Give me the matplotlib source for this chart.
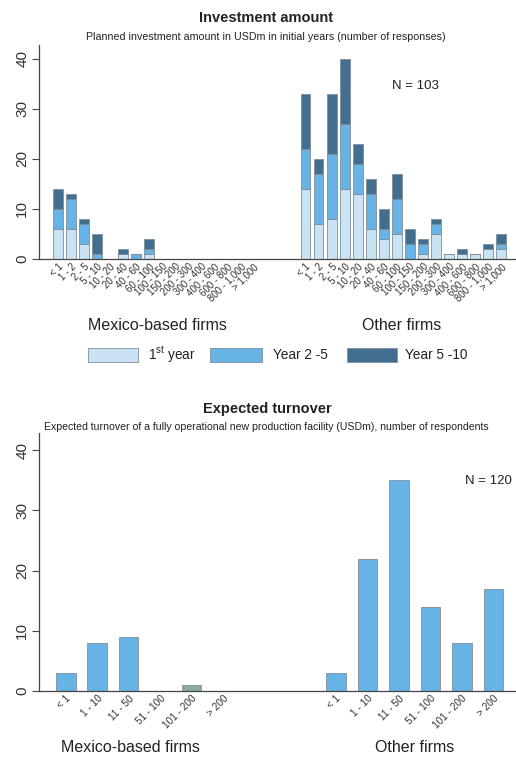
import matplotlib
matplotlib.use("Agg")
import matplotlib.pyplot as plt
from matplotlib.patches import Rectangle
import numpy as np

plt.rcParams['font.family'] = ['Liberation Sans', 'DejaVu Sans']
plt.rcParams['mathtext.fontset'] = 'custom'
plt.rcParams['mathtext.rm'] = 'Liberation Sans'

# ---------------- data ----------------
inv_categories = ["< 1", "1 - 2", "2 - 5", "5 - 10", "10 - 20", "20 - 40", "40 - 60",
                  "60 - 100", "100 - 150", "150 - 200", "200 - 300", "300 - 400",
                  "400 - 600", "600 - 800", "800 - 1,000", "> 1,000"]
mex_year1 = [6, 6, 3, 0, 0, 1, 0, 1, 0, 0, 0, 0, 0, 0, 0, 0]
mex_year2_5 = [4, 6, 4, 1, 0, 0, 1, 1, 0, 0, 0, 0, 0, 0, 0, 0]
mex_year5_10 = [4, 1, 1, 4, 0, 1, 0, 2, 0, 0, 0, 0, 0, 0, 0, 0]
oth_year1 = [14, 7, 8, 14, 13, 6, 4, 5, 0, 1, 5, 1, 1, 1, 2, 2]
oth_year2_5 = [8, 10, 13, 13, 6, 7, 2, 7, 3, 2, 2, 0, 0, 0, 0, 1]
oth_year5_10 = [11, 3, 12, 13, 4, 3, 4, 5, 3, 1, 1, 0, 1, 0, 1, 2]
inv_series = ["1$^{\\mathrm{st}}$ year", "Year 2 -5", "Year 5 -10"]

turn_categories = ["< 1", "1 - 10", "11 - 50", "51 - 100", "101 - 200", "> 200"]
turn_mex = [3, 8, 9, 0, 1, 0]
turn_oth = [3, 22, 35, 14, 8, 17]

# ---------------- style ----------------
c1 = "#c9e3f4"
c2 = "#68b3e6"
c3 = "#426f90"
edge = "#7f8e99"
axis_col = "#444444"
txt = "#222222"

fig = plt.figure(figsize=(5.16, 7.59), dpi=100)
W, H = 516, 759

def fx(px):
    return px / W

def fy(py):
    return 1 - py / H

def style_axes(ax, ymax):
    ax.set_ylim(0, ymax)
    for s in ["top", "right"]:
        ax.spines[s].set_visible(False)
    for s in ["left", "bottom"]:
        ax.spines[s].set_color(axis_col)
        ax.spines[s].set_linewidth(0.9)
    ax.set_yticks([0, 10, 20, 30, 40])
    ax.tick_params(axis="y", length=5, color=axis_col, labelsize=11,
                   labelrotation=90, pad=2, labelcolor="#333333")
    for lab in ax.get_yticklabels():
        lab.set_va("center")
    ax.tick_params(axis="x", length=0, pad=2, labelcolor="#333333")
    ax.set_facecolor("none")

# ---------------- top chart ----------------
ax1 = fig.add_axes([fx(39), fy(259), fx(516) - fx(39), fy(45) - fy(259)])
n = len(inv_categories)
pos_m = np.arange(n)
pos_o = np.arange(n) + 19
bw = 0.75
for pos, y1, y2, y3 in [(pos_m, mex_year1, mex_year2_5, mex_year5_10),
                        (pos_o, oth_year1, oth_year2_5, oth_year5_10)]:
    y1 = np.array(y1); y2 = np.array(y2); y3 = np.array(y3)
    ax1.bar(pos, y1, bw, color=c1, edgecolor=edge, linewidth=0.6)
    ax1.bar(pos, y2, bw, bottom=y1, color=c2, edgecolor=edge, linewidth=0.6)
    ax1.bar(pos, y3, bw, bottom=y1 + y2, color=c3, edgecolor=edge, linewidth=0.6)
ax1.set_xlim(-1.46, 35.15)
style_axes(ax1, 42.7)
ax1.set_xticks(list(pos_m) + list(pos_o))
ax1.set_xticklabels(inv_categories + inv_categories, rotation=45, ha="right",
                    rotation_mode="anchor", fontsize=7)
fig.text(fx(415), fy(86), "N = 103", ha="center", va="center",
         fontsize=9.5, color=txt)

fig.text(fx(266), fy(18), "Investment amount", ha="center", va="center",
         fontsize=10.5, fontweight="bold", color=txt)
fig.text(fx(266), fy(37), "Planned investment amount in USDm in initial years (number of responses)",
         ha="center", va="center", fontsize=7.7, color=txt)
fig.text(fx(157), fy(325), "Mexico-based firms", ha="center", va="center",
         fontsize=11.5, color=txt)
fig.text(fx(402), fy(325), "Other firms", ha="center", va="center",
         fontsize=11.5, color=txt)

# legend (drawn manually to match spacing)
leg_boxes = [(88, 138), (210, 262), (347, 397)]
leg_text_x = [148, 273, 405]
for (x0, x1), c, lab, tx in zip(leg_boxes, (c1, c2, c3), inv_series, leg_text_x):
    fig.patches.append(Rectangle((fx(x0), fy(362)), fx(x1) - fx(x0), fy(348) - fy(362),
                                 transform=fig.transFigure, facecolor=c,
                                 edgecolor=edge, linewidth=0.6))
    fig.text(fx(tx), fy(355), lab, ha="left", va="center", fontsize=9.8, color=txt)

# ---------------- bottom chart ----------------
ax2 = fig.add_axes([fx(39), fy(690.7), fx(516) - fx(39), fy(433) - fy(690.7)])
m = len(turn_categories)
tpos_m = np.arange(m)
tpos_o = np.arange(m) + 8.58
tw = 0.62
mex_colors = [c2] * m
mex_colors[4] = "#8fa9a3"
ax2.bar(tpos_m, turn_mex, tw, color=mex_colors, edgecolor=edge, linewidth=0.6)
ax2.bar(tpos_o, turn_oth, tw, color=c2, edgecolor=edge, linewidth=0.6)
ax2.set_xlim(-0.85, 14.3)
style_axes(ax2, 42.9)
ax2.set_xticks(list(tpos_m) + list(tpos_o))
ax2.set_xticklabels(turn_categories + turn_categories, rotation=45, ha="right",
                    rotation_mode="anchor", fontsize=7.2)
fig.text(fx(488), fy(481), "N = 120", ha="center", va="center",
         fontsize=9.5, color=txt)

fig.text(fx(267), fy(409), "Expected turnover", ha="center", va="center",
         fontsize=10.5, fontweight="bold", color=txt)
fig.text(fx(266), fy(427),
         "Expected turnover of a fully operational new production facility (USDm), number of respondents",
         ha="center", va="center", fontsize=7.6, color=txt)
fig.text(fx(130), fy(748), "Mexico-based firms", ha="center", va="center",
         fontsize=11.5, color=txt)
fig.text(fx(415), fy(748), "Other firms", ha="center", va="center",
         fontsize=11.5, color=txt)

fig.savefig("out.png", dpi=100, facecolor="white")
